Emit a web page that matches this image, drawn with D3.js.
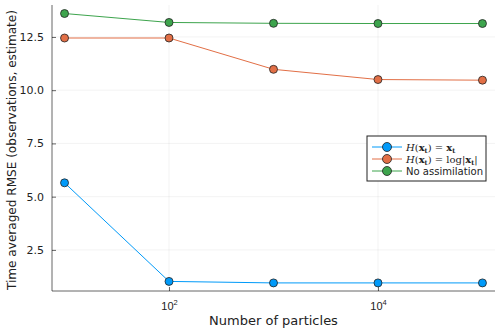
<!DOCTYPE html>
<html>
<head>
<meta charset="utf-8">
<script src="https://cdn.jsdelivr.net/npm/d3@7"></script>
<style>
  body { margin: 0; background: #fff; }
  svg { font-family: "DejaVu Sans", sans-serif; }
</style>
</head>
<body>
<div id="chart"></div>
<script>
const particles = [10, 100, 1000, 10000, 100000];
const rmseIdentity = [5.65, 1.02, 0.95, 0.95, 0.95];
const rmseLog = [12.45, 12.45, 10.98, 10.5, 10.47];
const rmseNone = [13.6, 13.18, 13.14, 13.13, 13.13];
const yTicks = [2.5, 5.0, 7.5, 10.0, 12.5];
const xTicks = [100, 10000];

const W = 500, H = 332;
const m = { left: 52, right: 5, top: 5, bottom: 41 };

const svg = d3.select('#chart').append('svg')
  .attr('width', W).attr('height', H);

const x = d3.scaleLog().domain([Math.pow(10, 0.88), Math.pow(10, 5.12)])
  .range([m.left, W - m.right]);
const y = d3.scaleLinear().domain([0.57, 14.0])
  .range([H - m.bottom, m.top]);

// Grid
svg.append('g').selectAll('line').data(yTicks).join('line')
  .attr('x1', m.left).attr('x2', W - m.right)
  .attr('y1', d => y(d)).attr('y2', d => y(d))
  .attr('stroke', '#000').attr('stroke-opacity', 0.1).attr('stroke-width', 0.5);
svg.append('g').selectAll('line').data(xTicks).join('line')
  .attr('y1', m.top).attr('y2', H - m.bottom)
  .attr('x1', d => x(d)).attr('x2', d => x(d))
  .attr('stroke', '#000').attr('stroke-opacity', 0.1).attr('stroke-width', 0.5);

// Axes
const yAxis = svg.append('g')
  .attr('transform', `translate(${m.left},0)`)
  .call(d3.axisLeft(y).tickValues(yTicks).tickFormat(d3.format('.1f')).tickSizeInner(-4).tickSizeOuter(0).tickPadding(8));
const xAxis = svg.append('g')
  .attr('transform', `translate(0,${H - m.bottom})`)
  .call(d3.axisBottom(x).tickValues(xTicks).tickFormat('').tickSizeInner(-4).tickSizeOuter(0));
[yAxis, xAxis].forEach(a => {
  a.select('.domain').attr('stroke', '#000').attr('stroke-opacity', 0.6).attr('stroke-width', 1);
  a.selectAll('.tick line').attr('stroke', '#000').attr('stroke-opacity', 0.6);
  a.selectAll('text').attr('font-size', 11).attr('fill', '#222')
    .attr('font-family', '"DejaVu Sans", sans-serif');
});
yAxis.select('.domain').attr('d', `M0,${m.top}V${H - m.bottom}`);
xAxis.select('.domain').attr('d', `M${m.left},0H${W - m.right}`);

// x tick labels as 10^n
xAxis.selectAll('.tick').each(function(d) {
  const t = d3.select(this).append('text')
    .attr('y', 19).attr('text-anchor', 'middle')
    .attr('font-size', 11).attr('fill', '#222');
  t.append('tspan').text('10');
  t.append('tspan').attr('font-size', 7.5).attr('dy', -5).text(Math.round(Math.log10(d)));
});

// Labels
svg.append('text')
  .attr('x', (m.left + W - m.right) / 2).attr('y', 325)
  .attr('text-anchor', 'middle').attr('font-size', 13).attr('fill', '#222')
  .text('Number of particles');
svg.append('text')
  .attr('transform', `translate(16,150) rotate(-90)`)
  .attr('text-anchor', 'middle').attr('font-size', 12.5).attr('fill', '#222')
  .attr('textLength', 280).attr('lengthAdjust', 'spacingAndGlyphs')
  .text('Time averaged RMSE (observations, estimate)');

// Series
const series = [
  { values: rmseIdentity, color: '#009af9' },
  { values: rmseLog, color: '#e26f46' },
  { values: rmseNone, color: '#3da44d' }
];
const line = d3.line().x(d => x(d[0])).y(d => y(d[1]));
series.forEach(s => {
  const pts = particles.map((p, i) => [p, s.values[i]]);
  svg.append('path').datum(pts)
    .attr('d', line).attr('fill', 'none')
    .attr('stroke', s.color).attr('stroke-width', 1);
  svg.append('g').selectAll('circle').data(pts).join('circle')
    .attr('cx', d => x(d[0])).attr('cy', d => y(d[1])).attr('r', 4)
    .attr('fill', s.color).attr('stroke', '#222').attr('stroke-width', 0.8);
});

// Legend
const lg = svg.append('g').attr('transform', 'translate(367,136)');
lg.append('rect').attr('width', 119).attr('height', 45)
  .attr('fill', '#fff').attr('stroke', '#222').attr('stroke-width', 1);
const serif = '"DejaVu Serif", "Liberation Serif", serif';
series.forEach((s, i) => {
  const cy = 11 + i * 12;
  lg.append('line').attr('x1', 5).attr('x2', 35).attr('y1', cy).attr('y2', cy)
    .attr('stroke', s.color).attr('stroke-width', 1);
  lg.append('circle').attr('cx', 20).attr('cy', cy).attr('r', 4.5)
    .attr('fill', s.color).attr('stroke', '#222').attr('stroke-width', 0.8);
  const t = lg.append('text').attr('x', 39).attr('y', cy + 4)
    .attr('font-size', 10).attr('fill', '#222');
  if (i === 2) {
    t.attr('textLength', 77).attr('lengthAdjust', 'spacingAndGlyphs').text('No assimilation');
  } else {
    t.attr('font-family', serif).attr('font-size', 10);
    t.append('tspan').attr('font-style', 'italic').text('H');
    t.append('tspan').text('(');
    t.append('tspan').attr('font-weight', 'bold').text('x');
    t.append('tspan').attr('font-weight', 'bold').attr('font-size', 6.5).attr('dy', 2).text('t');
    t.append('tspan').attr('dy', -2).text(') = ');
    if (i === 1) t.append('tspan').text('log|');
    t.append('tspan').attr('font-weight', 'bold').text('x');
    t.append('tspan').attr('font-weight', 'bold').attr('font-size', 6.5).attr('dy', 2).text('t');
    if (i === 1) t.append('tspan').attr('dy', -2).text('|');
  }
});
</script>
</body>
</html>
